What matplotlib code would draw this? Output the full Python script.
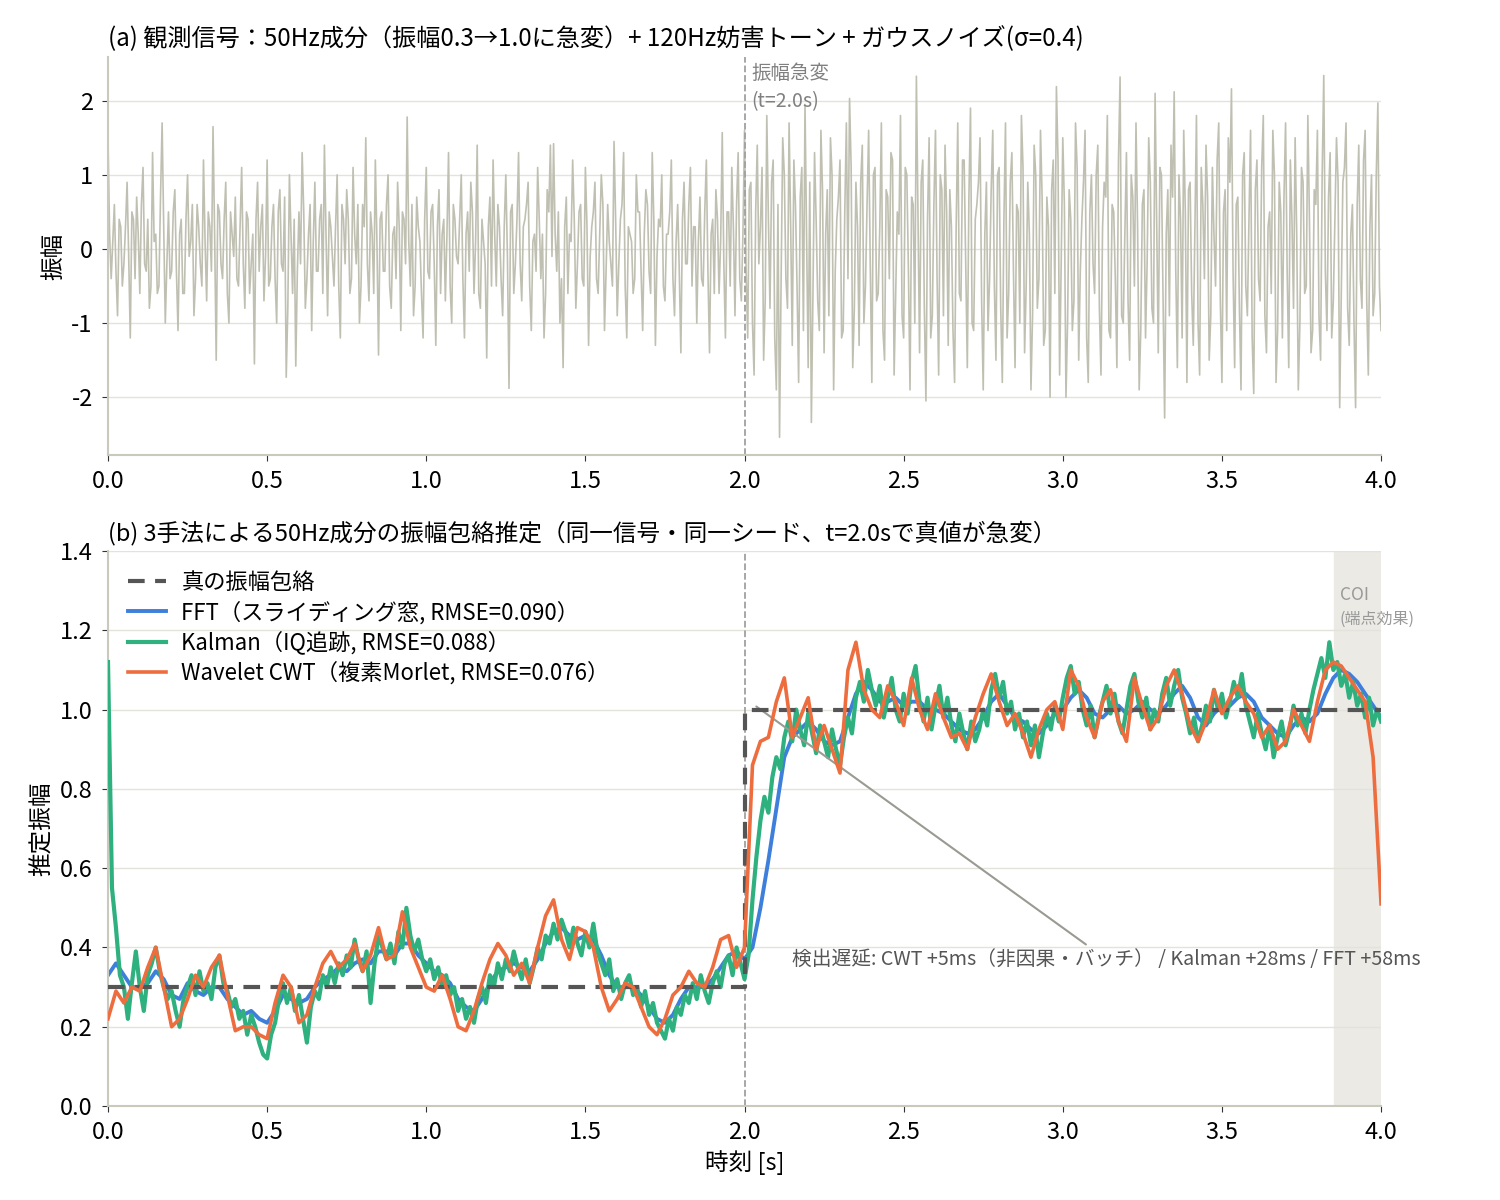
import numpy as np
import matplotlib
matplotlib.use("Agg")
import matplotlib.pyplot as plt

plt.rcParams['font.family'] = ['Noto Sans CJK JP', 'DejaVu Sans']
plt.rcParams['axes.unicode_minus'] = False

# ---- panel (a): observed signal, read from the picture ----
# samples on the 0.01 s grid
sig = [
    1.5, -0.4, 0.6, -0.9, 0.3, -0.2, 0.9, -1.2, 0.4, 0.7, -0.6, 1.1, -0.3, -0.8, 1.3, 0.2, -0.5, 1.7, -1.0, 0.5,
    -0.3, 0.8, -1.1, 0.4, -0.6, 1.0, 0.1, -0.9, 0.6, -0.2, 1.2, -0.7, 0.3, 1.65, -1.5, 0.5, -0.4, 0.9, -1.0, 0.2,
    0.7, -0.5, 1.1, -0.8, 0.4, -0.2, -1.55, 0.9, 0.3, -0.7, 1.2, -0.4, 0.6, -1.0, 0.8, -0.3, -1.73, 1.0, -0.6, -1.58,
    0.5, 1.3, -0.8, 0.2, -1.1, 0.9, -0.3, 0.6, 1.4, -0.9, 0.3, -0.5, 1.0, -1.2, 0.4, 0.8, -0.6, 1.1, -0.2, -1.0,
    0.6, 1.5, -0.7, 0.2, 1.2, -1.43, 0.5, -0.3, 1.0, -0.8, 0.3, 0.9, -1.1, 0.4, 1.78, -0.5, -0.9, 0.7, 0.1, -1.2,
    1.1, -0.4, 0.6, -1.3, 0.8, 0.2, -0.7, 1.3, -1.0, 0.4, -0.2, 1.0, -1.2, 0.5, 0.9, -0.6, 1.4, -0.8, 0.1, -1.47,
    0.7, 1.2, -0.5, 0.3, -0.9, 1.0, -1.88, 0.6, -0.2, 1.3, -0.7, 0.4, 0.9, -1.1, 0.2, 1.1, -0.4, -1.2, 0.8, 1.4,
    1.42, -0.3, -1.0, -1.6, 0.7, 0.2, 1.2, -0.8, 0.5, -0.4, 1.1, -1.3, 0.3, 0.9, -0.6, 1.0, -1.1, 0.6, -0.2, 1.45,
    -0.9, 0.4, 1.3, -1.2, 0.2, -0.6, 1.0, 0.5, -1.1, 0.8, -0.3, 1.3, -1.3, 0.4, 1.0, -0.7, 0.2, 1.2, -0.9, 0.6,
    -1.4, 0.9, -0.2, 1.1, 0.3, -1.0, 0.7, -0.5, 1.2, -1.4, 0.4, 0.8, -0.6, 1.57, -1.2, 0.5, 1.1, -0.9, 1.3, -0.7,
    1.6, -1.2, 0.9, -1.7, 1.4, 0.3, -1.5, 1.8, -0.8, 1.2, -1.9, -2.54, 1.5, -0.4, 1.7, -1.3, 0.6, -1.8, 1.1, 1.95,
    -1.6, -2.34, 1.3, -0.7, 1.6, -1.4, 0.8, 1.5, -1.9, 0.4, 1.2, -1.1, 1.7, 2.03, -1.6, 0.9, -1.3, 1.4, -0.5, 1.6,
    -1.8, 1.1, -0.6, 1.7, -1.5, 0.7, 1.3, -1.7, 0.5, 1.8, -1.2, 1.0, -1.9, 0.6, 2.33, -1.4, 1.2, -2.05, 1.5, -0.9,
    1.6, -1.7, 0.8, 1.4, -1.3, 0.3, -1.8, 1.7, -0.7, 1.2, -1.6, 1.9, -1.1, 0.6, 1.5, -1.9, 0.9, -0.4, 1.6, -1.5,
    1.1, -1.8, 1.7, -0.6, 1.3, -1.6, 0.5, 1.8, -1.4, 0.9, -1.9, 1.4, -0.8, 1.6, -1.3, 0.7, -2.0, 1.2, 2.19, -1.7,
    1.5, -2.0, 0.8, -1.1, 1.7, -1.5, 0.4, 1.6, -1.8, 1.0, -0.6, 1.4, -1.7, 0.9, 1.8, -1.2, 0.5, -1.6, 2.32, -1.0,
    1.3, -1.5, 0.7, 1.7, -1.9, 0.6, -1.2, 1.5, -0.8, 2.1, -1.4, 1.0, -2.28, 0.8, 1.4, 2.12, -1.6, 0.4, 1.6, -1.8,
    0.9, -1.3, 1.8, -1.7, 0.6, 1.4, -1.5, 1.1, -0.5, 1.7, -1.8, 0.8, 1.5, 2.16, -1.6, 0.7, -1.9, 1.3, -0.9, 1.6,
    -1.95, 1.2, -0.7, 1.8, -1.4, 0.5, 1.6, -1.8, 0.9, -1.2, 1.7, -1.6, 0.4, 1.5, -1.9, 1.1, -0.6, 1.8, -1.4, 0.8,
    1.6, -1.5, 2.34, -1.1, 1.3, -0.7, 1.5, -2.14, 0.9, 1.7, -1.3, 0.6, -2.14, 1.4, -0.8, 1.6, -1.7, 1.0, -0.6, 1.97,
    -1.1,
]
# samples half-way between them (0.005 s, 0.015 s, ...)
sig_mid = [
    0.2, 0.1, -0.3, 0.4, -0.5, 0.3, -0.1, 0.5, -0.4, 0.2, 0.6, -0.2, 0.4, -0.5, 0.1, -0.6, 0.7, 0.3, -0.2, -0.4,
    0.5, -0.3, 0.2, -0.6, 0.4, -0.1, 0.6, -0.4, 0.3, -0.5, 0.1, 0.5, -0.3, 0.2, 0.6, -0.2, 0.4, -0.6, 0.5, -0.1,
    -0.4, 0.3, -0.2, 0.5, -0.6, 0.2, 0.4, -0.3, 0.6, -0.1, -0.5, 0.3, -0.4, 0.5, -0.2, 0.7, -0.8, 0.2, 0.4, -0.3,
    -0.2, 0.5, -0.4, 0.6, 0.1, -0.3, 0.4, -0.6, 0.2, 0.5, -0.1, 0.3, -0.5, 0.6, -0.2, 0.4, -0.4, 0.2, 0.6, -0.5,
    0.3, -0.2, 0.5, -0.6, 0.1, 0.4, -0.3, 0.6, -0.5, 0.2, -0.4, 0.3, 0.5, -0.2, 0.1, 0.6, -0.5, 0.3, -0.6, 0.4,
    -0.3, 0.5, -0.2, 0.3, -0.6, 0.4, 0.2, -0.5, 0.6, -0.1, 0.4, -0.4, 0.2, -0.3, 0.5, 0.1, -0.6, 0.4, -0.2, 0.3,
    -0.5, 0.2, 0.6, -0.4, 0.3, -0.1, 0.5, -0.6, 0.4, -0.2, 0.3, 0.6, -0.5, 0.1, -0.3, 0.4, 0.2, -0.6, 0.5, -0.1,
    0.2, 0.5, -0.4, 0.3, -0.6, 0.1, 0.4, -0.2, 0.6, -0.5, 0.3, -0.1, 0.5, -0.4, 0.2, 0.6, -0.3, 0.1, -0.5, 0.4,
    -0.2, 0.6, -0.5, 0.3, 0.1, -0.4, 0.5, -0.3, 0.2, 0.6, -0.6, 0.4, -0.1, 0.3, -0.5, 0.2, 0.5, -0.4, 0.1, -0.3,
    0.4, -0.2, 0.6, -0.5, 0.3, 0.1, -0.4, 0.5, -0.3, 0.2, -0.6, 0.4, 0.1, -0.2, 0.5, -0.5, 0.3, 0.6, -0.4, 0.2,
    -0.3, 0.8, -1.0, 0.5, -0.2, 1.1, -0.7, 0.4, 0.9, -1.2, 0.6, -0.4, 1.0, -0.8, 0.3, 1.2, -0.5, 0.7, -1.1, 0.2,
    0.9, -0.6, 0.4, -1.1, 0.8, 0.2, -0.9, 1.0, -0.3, 0.7, -1.2, 0.5, -0.4, 1.1, -0.8, 0.3, 0.9, -1.0, 0.6, -0.2,
    1.0, -0.7, 0.3, -1.1, 0.8, -0.4, 1.2, -0.6, 0.2, -0.9, 1.1, -0.3, 0.7, -1.0, 0.5, 0.9, -0.8, 0.4, -1.2, 0.6,
    -0.4, 1.0, -0.9, 0.5, 0.8, -1.1, 0.3, -0.6, 1.2, -0.2, 0.7, -1.0, 0.4, 0.9, -0.7, 0.2, -1.1, 0.8, -0.5, 1.0,
    -0.8, 0.4, -1.2, 0.9, -0.3, 0.6, -1.0, 1.1, -0.5, 0.2, -0.9, 1.0, -0.4, 0.7, -1.1, 0.3, 0.8, -0.6, 1.2, -0.2,
    0.6, -1.0, 0.4, -0.7, 1.1, -0.3, 0.9, -1.2, 0.5, -0.2, 1.0, -0.8, 0.3, 0.7, -1.1, 0.6, -0.4, 1.2, -0.9, 0.2,
    -0.7, 1.0, -0.5, 0.3, -1.1, 0.8, -0.2, 0.9, -1.0, 0.4, 1.1, -0.6, 0.2, -0.9, 0.7, -0.3, 1.0, -1.2, 0.5, 0.8,
    -0.6, 0.3, -1.0, 1.1, -0.4, 0.7, -0.9, 0.2, 1.2, -0.7, 0.5, -1.1, 0.9, -0.3, 0.6, -0.8, 1.0, -0.5, 0.4, -1.2,
    0.8, -0.4, 1.1, -0.9, 0.3, -0.6, 1.0, -1.1, 0.5, 0.7, -0.3, 1.2, -0.8, 0.2, -1.0, 0.9, -0.5, 0.4, -1.1, 0.6,
    -0.9, 1.0, -0.3, 0.7, -1.2, 0.4, 0.9, -0.6, 1.1, -0.8, 0.2, -1.0, 0.6, -0.4, 1.2, -0.7, 0.3, -0.9, 1.0, -0.5,
]

# ---- panel (b): envelope estimates ----
true_t = [0.0, 2.0, 2.0, 4.0]
true_env = [0.3, 0.3, 1.0, 1.0]

# FFT and CWT read every 0.025 s
fft_env = [
    0.33, 0.36, 0.33, 0.30, 0.30, 0.31, 0.34, 0.32, 0.28, 0.27, 0.31, 0.29, 0.28, 0.30, 0.30, 0.27, 0.25, 0.23, 0.24, 0.22,
    0.21, 0.24, 0.28, 0.27, 0.26, 0.27, 0.30, 0.32, 0.33, 0.35, 0.34, 0.36, 0.37, 0.36, 0.39, 0.39, 0.38, 0.41, 0.41, 0.38,
    0.36, 0.34, 0.33, 0.31, 0.27, 0.25, 0.24, 0.27, 0.31, 0.34, 0.35, 0.36, 0.35, 0.34, 0.37, 0.41, 0.44, 0.45, 0.43, 0.42,
    0.43, 0.42, 0.38, 0.33, 0.30, 0.30, 0.30, 0.28, 0.25, 0.22, 0.21, 0.23, 0.27, 0.30, 0.30, 0.30, 0.32, 0.35, 0.38, 0.39,
    0.37, 0.40, 0.50, 0.62, 0.75, 0.88, 0.93, 0.95, 0.97, 0.95, 0.92, 0.91, 0.92, 0.98, 1.04, 1.07, 1.05, 1.02, 1.02, 1.03,
    1.01, 1.02, 1.02, 1.00, 1.00, 0.99, 0.97, 0.95, 0.94, 0.95, 0.98, 1.02, 1.04, 1.01, 0.98, 0.97, 0.95, 0.94, 0.96, 0.99,
    1.00, 1.03, 1.05, 1.03, 0.99, 0.98, 1.00, 1.01, 0.99, 1.00, 1.02, 1.00, 0.99, 1.01, 1.04, 1.06, 1.03, 0.98, 0.96, 0.99,
    1.01, 1.01, 1.03, 1.04, 1.02, 0.98, 0.96, 0.94, 0.93, 0.96, 0.98, 0.97, 0.99, 1.04, 1.08, 1.10, 1.09, 1.07, 1.04, 1.01,
    0.98,
]
cwt_env = [
    0.22, 0.29, 0.26, 0.30, 0.29, 0.35, 0.40, 0.30, 0.20, 0.22, 0.27, 0.33, 0.30, 0.35, 0.38, 0.28, 0.19, 0.20, 0.20, 0.18,
    0.17, 0.26, 0.33, 0.30, 0.21, 0.23, 0.30, 0.36, 0.39, 0.35, 0.37, 0.41, 0.34, 0.38, 0.45, 0.37, 0.38, 0.49, 0.40, 0.35,
    0.30, 0.29, 0.33, 0.27, 0.20, 0.19, 0.24, 0.31, 0.37, 0.41, 0.38, 0.33, 0.36, 0.31, 0.40, 0.48, 0.52, 0.42, 0.37, 0.45,
    0.44, 0.40, 0.30, 0.24, 0.27, 0.31, 0.30, 0.25, 0.20, 0.18, 0.22, 0.28, 0.30, 0.34, 0.31, 0.30, 0.35, 0.42, 0.43, 0.35,
    0.40, 0.86, 0.92, 0.93, 1.02, 1.08, 0.93, 0.98, 1.03, 0.90, 0.96, 0.90, 0.84, 1.10, 1.17, 1.05, 1.00, 0.98, 1.06, 1.02,
    0.96, 1.08, 1.00, 0.95, 1.04, 0.98, 0.93, 0.94, 0.90, 0.98, 1.04, 1.09, 1.02, 0.96, 0.99, 0.94, 0.88, 0.95, 1.00, 1.02,
    0.95, 1.10, 1.06, 0.98, 0.93, 1.02, 1.05, 0.97, 0.92, 1.08, 1.01, 0.95, 0.98, 1.06, 1.10, 1.04, 0.96, 0.92, 0.97, 1.05,
    0.99, 1.03, 1.06, 1.02, 0.99, 0.93, 0.96, 0.90, 0.92, 1.00, 0.96, 0.92, 1.02, 1.10, 1.12, 1.11, 1.08, 1.05, 1.02, 0.88,
    0.51,
]

# Kalman read every 0.0125 s
kal_env = [
    1.12, 0.55, 0.45, 0.33, 0.30, 0.22, 0.31, 0.39, 0.30, 0.24, 0.33, 0.36, 0.40, 0.34, 0.30, 0.27, 0.29, 0.24, 0.20, 0.27,
    0.30, 0.33, 0.28, 0.34, 0.29, 0.31, 0.27, 0.35, 0.38, 0.31, 0.29, 0.25, 0.27, 0.22, 0.24, 0.18, 0.23, 0.20, 0.16, 0.13,
    0.12, 0.18, 0.21, 0.27, 0.31, 0.26, 0.30, 0.24, 0.28, 0.22, 0.16, 0.25, 0.29, 0.27, 0.33, 0.30, 0.35, 0.31, 0.36, 0.33,
    0.38, 0.35, 0.42, 0.37, 0.34, 0.39, 0.26, 0.36, 0.43, 0.40, 0.37, 0.41, 0.36, 0.44, 0.40, 0.50, 0.43, 0.39, 0.42, 0.37,
    0.34, 0.37, 0.32, 0.35, 0.30, 0.33, 0.28, 0.30, 0.24, 0.27, 0.22, 0.25, 0.21, 0.27, 0.30, 0.26, 0.33, 0.30, 0.36, 0.32,
    0.37, 0.34, 0.39, 0.35, 0.32, 0.37, 0.31, 0.35, 0.40, 0.37, 0.43, 0.41, 0.46, 0.42, 0.47, 0.44, 0.40, 0.45, 0.41, 0.38,
    0.44, 0.40, 0.46, 0.39, 0.36, 0.33, 0.37, 0.29, 0.32, 0.27, 0.31, 0.33, 0.28, 0.30, 0.25, 0.29, 0.23, 0.26, 0.21, 0.19,
    0.17, 0.22, 0.19, 0.25, 0.23, 0.28, 0.26, 0.31, 0.27, 0.33, 0.29, 0.26, 0.31, 0.34, 0.30, 0.36, 0.38, 0.33, 0.40, 0.36,
    0.32, 0.38, 0.52, 0.63, 0.72, 0.78, 0.74, 0.83, 0.88, 0.85, 0.93, 0.97, 0.92, 1.00, 0.95, 0.91, 0.99, 0.94, 0.89, 0.96,
    0.92, 0.88, 0.95, 0.90, 0.86, 0.93, 0.98, 0.94, 1.03, 1.07, 1.02, 1.10, 1.05, 1.01, 1.06, 0.98, 1.03, 1.08, 1.00, 0.97,
    1.04, 0.99, 1.07, 1.11, 1.02, 0.97, 1.03, 0.95, 1.01, 1.06, 0.98, 1.03, 0.96, 0.92, 0.99, 0.94, 0.90, 0.97, 0.92, 0.95,
    1.00, 0.96, 1.05, 1.09, 1.03, 1.07, 0.99, 1.02, 0.95, 0.99, 0.93, 0.97, 0.91, 0.96, 0.88, 0.94, 0.99, 0.95, 1.01, 0.97,
    1.03, 1.08, 1.11, 1.04, 1.07, 1.00, 0.96, 1.01, 0.93, 0.98, 1.02, 1.06, 0.99, 1.04, 0.97, 0.94, 1.00, 1.06, 1.09, 1.02,
    0.98, 1.03, 0.95, 1.00, 0.97, 1.04, 1.08, 1.01, 1.06, 1.10, 1.03, 0.99, 0.94, 0.98, 0.92, 0.96, 1.01, 0.97, 1.05, 1.00,
    1.04, 0.98, 1.02, 1.07, 1.03, 1.09, 1.01, 0.97, 0.93, 0.99, 0.94, 0.90, 0.96, 0.88, 0.93, 0.97, 0.91, 0.95, 1.01, 0.96,
    0.99, 0.94, 1.00, 1.05, 1.09, 1.13, 1.08, 1.17, 1.10, 1.12, 1.06, 1.09, 1.03, 1.07, 1.01, 1.04, 0.98, 1.03, 0.96, 1.00,
    0.97,
]

labels = [
    "真の振幅包絡",
    "FFT（スライディング窓, RMSE=0.090）",
    "Kalman（IQ追跡, RMSE=0.088）",
    "Wavelet CWT（複素Morlet, RMSE=0.076）",
]

# time grids for the sampled series
sig_all = np.empty(len(sig) + len(sig_mid))
sig_all[0::2] = sig
sig_all[1::2] = sig_mid
sig_t = np.linspace(0, 4, len(sig_all))
est_t = np.linspace(0, 4, len(fft_env))
kal_t = np.linspace(0, 4, len(kal_env))

C_SIG = "#c0c0b2"
C_GRID = "#e3e3dc"
C_SPINE = "#c9c9bd"
C_FFT = "#3d7fdb"
C_KAL = "#2eb07f"
C_CWT = "#ee6d3f"
C_TRUE = "#555555"
FS = 17


def style_axes(ax):
    for s in ("top", "right"):
        ax.spines[s].set_visible(False)
    for s in ("left", "bottom"):
        ax.spines[s].set_color(C_SPINE)
        ax.spines[s].set_linewidth(1.5)
    ax.grid(axis="y", color=C_GRID, linewidth=1.0)
    ax.set_axisbelow(True)
    ax.tick_params(labelsize=FS, length=4, pad=7, color="#333333")


fig = plt.figure(figsize=(15, 12), dpi=100)
ax1 = fig.add_axes([0.072, 0.6208, 0.8487, 0.3317])
ax2 = fig.add_axes([0.072, 0.0783, 0.8487, 0.4625])
ticks_x = np.arange(0, 4.01, 0.5)

# (a)
ax1.plot(sig_t, sig_all, color=C_SIG, linewidth=1.2)
ax1.axvline(2.0, color="#a0a0a0", linestyle="--", linewidth=1.3)
ax1.text(2.022, 0.985, "振幅急変\n(t=2.0s)", transform=ax1.get_xaxis_transform(),
         ha="left", va="top", fontsize=14, color="#808080", linespacing=1.45)
ax1.set_xlim(0, 4)
ax1.set_ylim(-2.78, 2.59)
ax1.set_yticks([-2, -1, 0, 1, 2])
ax1.set_xticks(ticks_x)
ax1.set_xticklabels([f"{v:.1f}" for v in ticks_x])
ax1.set_ylabel("振幅", fontsize=FS)
ax1.set_title("(a) 観測信号：50Hz成分（振幅0.3→1.0に急変）+ 120Hz妨害トーン + ガウスノイズ(σ=0.4)",
              loc="left", fontsize=17.4, pad=8)
style_axes(ax1)

# (b)
ax2.axvspan(3.852, 4.0, color="#ebeae5", zorder=0)
ax2.text(3.87, 1.29, "COI", fontsize=12.5, color="#999999", ha="left", va="center")
ax2.text(3.87, 1.228, "(端点効果)", fontsize=11.5, color="#999999", ha="left", va="center")
ax2.axvline(2.0, color="#a0a0a0", linestyle="--", linewidth=1.3, zorder=1)
ax2.plot(true_t, true_env, color=C_TRUE, linestyle=(0, (4, 2.5)), linewidth=3, zorder=4, label=labels[0])
ax2.plot(est_t, fft_env, color=C_FFT, linewidth=2.8, zorder=2, label=labels[1])
ax2.plot(kal_t, kal_env, color=C_KAL, linewidth=3.0, zorder=3, label=labels[2])
ax2.plot(est_t, cwt_env, color=C_CWT, linewidth=2.6, zorder=5, label=labels[3])
ax2.annotate("検出遅延: CWT +5ms（非因果・バッチ） / Kalman +28ms / FFT +58ms",
             xy=(2.03, 1.012), xytext=(2.15, 0.37), fontsize=14.2, color="#555555",
             ha="left", va="center",
             arrowprops=dict(arrowstyle="-", color="#9a9a92", linewidth=1.5))
ax2.set_xlim(0, 4)
ax2.set_ylim(0, 1.4)
ticks_y = np.arange(0, 1.41, 0.2)
ax2.set_yticks(ticks_y)
ax2.set_yticklabels([f"{v:.1f}" for v in ticks_y])
ax2.set_xticks(ticks_x)
ax2.set_xticklabels([f"{v:.1f}" for v in ticks_x])
ax2.set_xlabel("時刻 [s]", fontsize=FS)
ax2.set_ylabel("推定振幅", fontsize=FS)
ax2.set_title("(b) 3手法による50Hz成分の振幅包絡推定（同一信号・同一シード、t=2.0sで真値が急変）",
              loc="left", fontsize=17, pad=8)
ax2.legend(loc="upper left", frameon=False, fontsize=16, handlelength=1.7, handletextpad=0.7,
           borderaxespad=0.5, labelspacing=0.3)
style_axes(ax2)

fig.savefig("out.png", dpi=100)
